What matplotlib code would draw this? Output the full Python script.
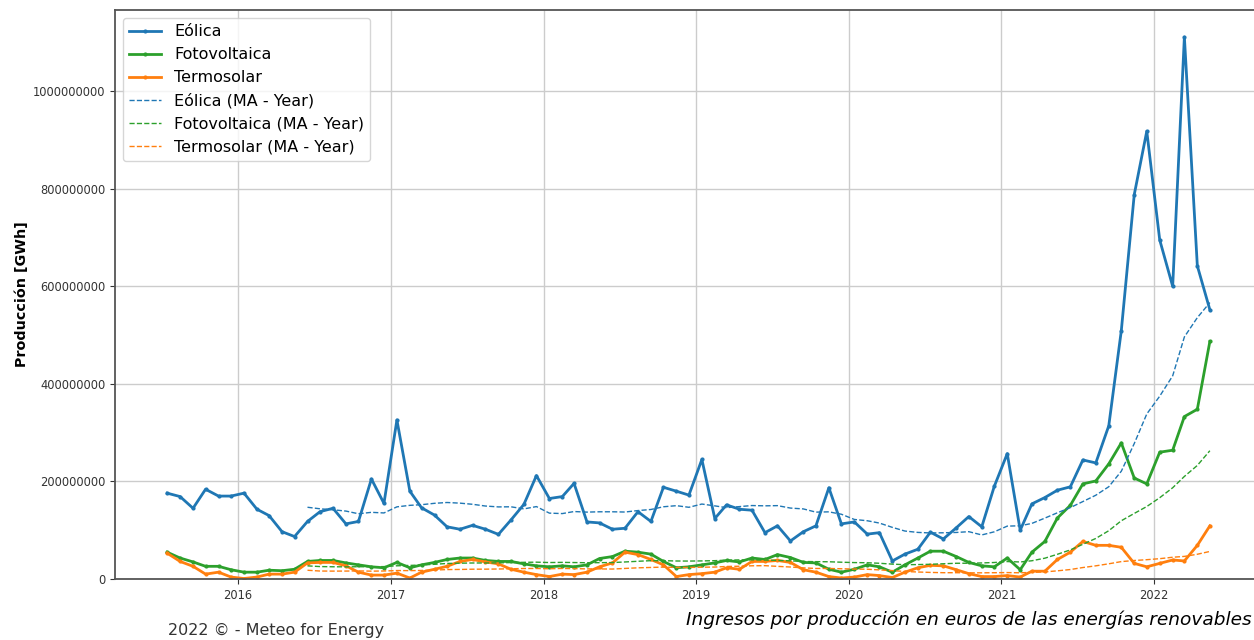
import numpy as np
import pandas as pd
import matplotlib
matplotlib.use('Agg')
import matplotlib.pyplot as plt

############################################
# monthly production, in millions
eolica = [176, 169, 145, 184, 170, 170, 176, 143, 130, 97, 87, 118, 138, 145, 113, 118, 205, 155,
          326, 180, 146, 131, 107, 102, 110, 102, 91.5, 121, 153, 212, 165, 169, 196, 117, 115, 102,
          104, 138, 118, 188, 180, 172, 245, 124, 152, 143, 141, 95, 109, 78, 97, 109, 187, 113,
          117, 92, 95, 37, 51, 61, 96, 82, 105, 128, 107, 190, 257, 100, 154, 167, 182, 189,
          244, 238, 314, 509, 788, 918, 695, 600, 1111, 642, 552]
fotovoltaica = [55, 43, 35, 26, 26, 19, 14, 14, 18, 17, 20, 36, 38, 38, 33, 29, 25, 23,
                34, 23, 29, 34, 40, 43, 43, 38, 36, 36, 31, 27, 25, 27, 25, 29, 42, 46,
                57, 55, 51, 36, 23, 25, 29, 33, 38, 35, 43, 40, 50, 44, 34, 33, 20, 14,
                20, 29, 25, 14, 29, 43, 57, 57, 46, 34, 27, 25, 43, 19, 55, 77, 125, 151,
                195, 201, 236, 279, 207, 195, 260, 264, 333, 348, 487]
termosolar = [53, 36, 26, 10, 14, 4, 1, 4, 10, 10, 14, 33, 34, 34, 27, 14, 8, 8,
              12, 2, 14, 20, 26, 36, 40, 35, 31, 20, 14, 9, 5, 10, 9, 14, 25, 33,
              55, 50, 40, 29, 5, 9, 11, 14, 23, 20, 36, 36, 38, 34, 19, 14, 5, 2,
              4, 9, 7, 3, 14, 23, 28, 27, 19, 11, 5, 5, 7, 4, 16, 16, 40, 55,
              77, 69, 69, 65, 32, 25, 32, 39, 37, 69, 109]

fechas = pd.date_range('2015-07-01', '2022-05-01', freq='MS') + pd.Timedelta(days=14)

df = pd.DataFrame({'Eólica': eolica,
                   'Fotovoltaica': fotovoltaica,
                   'Termosolar': termosolar}, index=fechas) * 1e6
ma = df.rolling(12).mean()
colores = {'Eólica': '#1f77b4', 'Fotovoltaica': '#2ca02c', 'Termosolar': '#ff7f0e'}

############################################
fig = plt.figure(figsize=(12.54, 6.4), dpi=100)
ax = fig.add_axes([115/1254, 61/640, 1147/1254, 569/640])

for col in df.columns:
    ax.plot(df.index, df[col], color=colores[col], lw=2, marker='.', markersize=4, label=col)
for col in df.columns:
    ax.plot(ma.index, ma[col], color=colores[col], lw=1, linestyle='--', label=col + ' (MA - Year)')

ax.set_ylim(bottom=0)
ax.ticklabel_format(style='plain', axis='y')
ax.grid(True, color='#cccccc', lw=1)
for s in ax.spines.values():
    s.set_color('#555555')
    s.set_linewidth(1.3)
ax.tick_params(labelsize=8.3, colors='#333333')
ax.set_ylabel('Producción [GWh]', fontsize=10.3, fontweight='bold', labelpad=3)
ax.legend(loc='upper left', fontsize=11.5, framealpha=0.8)

fig.text(168/1254, 1 - 630/640, '2022 © - Meteo for Energy', fontsize=11.5, color='#333333', va='center')
fig.text(1252/1254, 1 - 620/640, 'Ingresos por producción en euros de las energías renovables',
         fontsize=13.3, style='italic', ha='right', va='center')

plt.savefig('out.png', dpi=100)
